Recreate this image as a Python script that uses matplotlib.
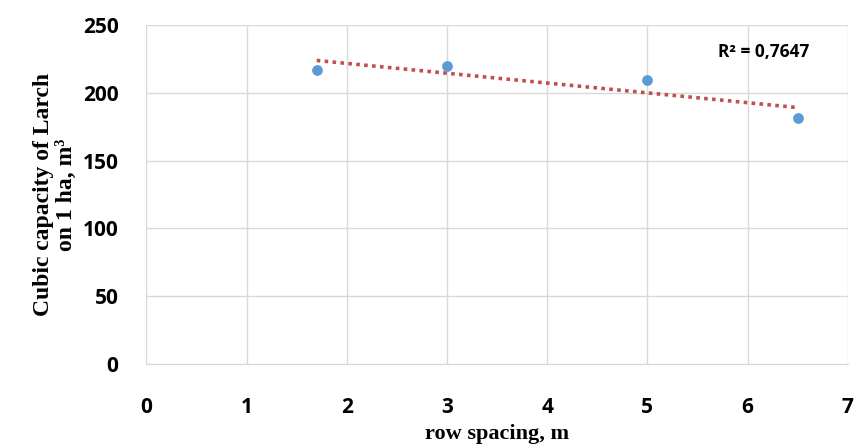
import numpy as np
import matplotlib
matplotlib.use("Agg")
import matplotlib.pyplot as plt

# row spacing (m) and cubic capacity (m3 per ha)
spacing = [1.7, 3.0, 5.0, 6.5]
capacity = [217, 219.5, 209.5, 181]
xticks = [0, 1, 2, 3, 4, 5, 6, 7]
yticks = [0, 50, 100, 150, 200, 250]

fig = plt.figure(figsize=(8.66, 4.48), dpi=100)
ax = fig.add_axes([0.169, 0.1875, 0.81, 0.757])

# linear trend
k, b = np.polyfit(spacing, capacity, 1)
xt = np.array([min(spacing), max(spacing)])

ax.plot(xt, k * xt + b, linestyle=(0, (1, 1.2)), color="#C0504D", lw=2.6, zorder=2)
ax.scatter(spacing, capacity, s=45, color="#5B9BD5", zorder=3)

ax.set_xlim(0, 7)
ax.set_ylim(0, 250)
ax.set_xticks(xticks)
ax.set_yticks(yticks)
ax.grid(True, color="#D9D9D9", lw=1)
ax.set_axisbelow(True)
for s in ax.spines.values():
    s.set_visible(False)
ax.spines["bottom"].set_visible(True)
ax.spines["bottom"].set_color("#D9D9D9")
ax.tick_params(length=0, labelsize=15)
for lab in ax.get_xticklabels() + ax.get_yticklabels():
    lab.set_fontweight("bold")
    lab.set_fontfamily("Open Sans")
ax.tick_params(axis="x", pad=24)
ax.tick_params(axis="y", pad=20)

ax.text(6.62, 230, "R² = 0,7647", ha="right", va="center",
        fontsize=12.5, fontweight="bold", family="Open Sans")

ax.set_xlabel("row spacing, m", fontsize=16, fontweight="bold", family="Liberation Serif", labelpad=4)
ax.set_ylabel("Cubic capacity of Larch\non 1 ha, m³", fontsize=17, fontweight="bold",
              family="Liberation Serif", labelpad=4, linespacing=1.15)

fig.savefig("out.png", dpi=100)
